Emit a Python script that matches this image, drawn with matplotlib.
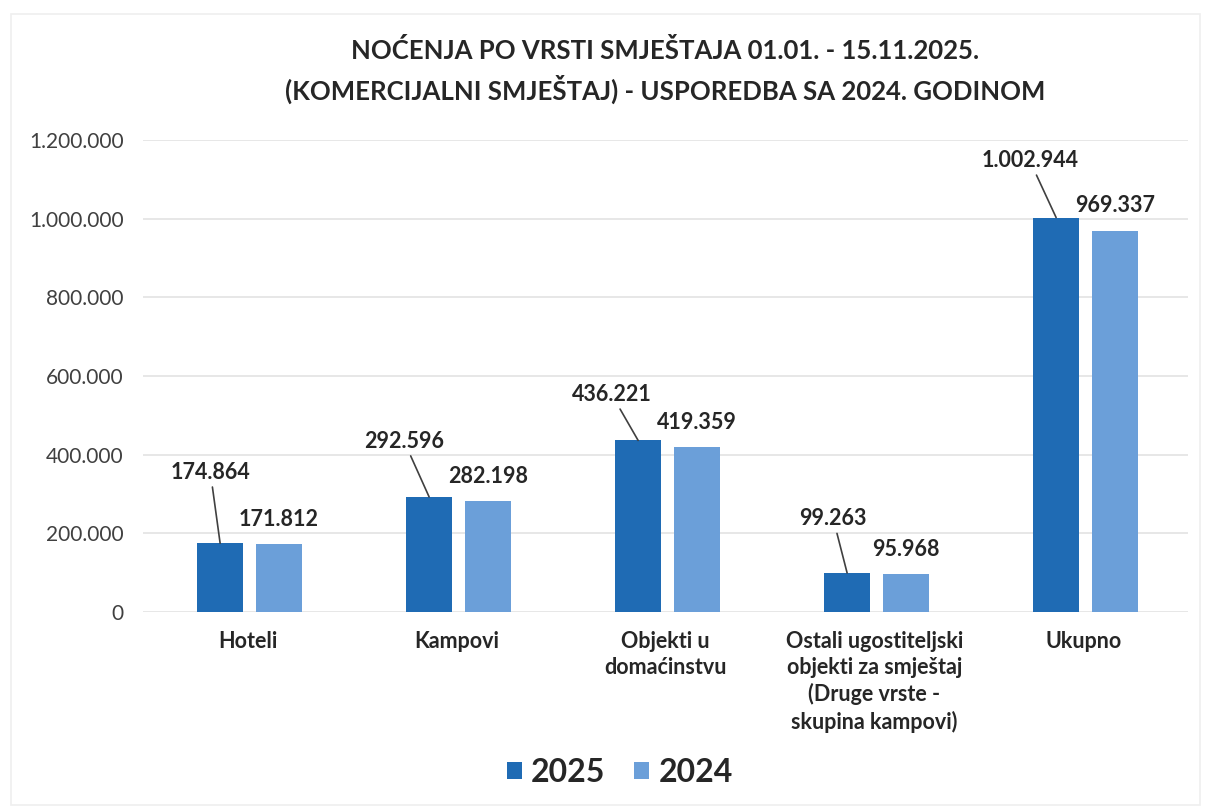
import matplotlib
matplotlib.use("Agg")
import matplotlib.pyplot as plt
import numpy as np
from matplotlib.patches import Rectangle

categories = ["Hoteli", "Kampovi", "Objekti u\ndomaćinstvu",
              "Ostali ugostiteljski\nobjekti za smještaj\n(Druge vrste -\nskupina kampovi)",
              "Ukupno"]
values_2025 = [174864, 292596, 436221, 99263, 1002944]
values_2024 = [171812, 282198, 419359, 95968, 969337]
series_names = ["2025", "2024"]
yticks = [0, 200000, 400000, 600000, 800000, 1000000, 1200000]
title = ("NOĆENJA PO VRSTI SMJEŠTAJA 01.01. - 15.11.2025.\n"
         "(KOMERCIJALNI SMJEŠTAJ) - USPOREDBA SA 2024. GODINOM")

# label offsets (points) for leader-line labels of 2025 series
offsets_2025 = [(-7, 51), (-18, 40), (-19, 33), (-10, 39), (-19, 41)]

def fmt(v):
    return f"{v:,}".replace(",", ".")

plt.rcParams['font.family'] = ['Lato', 'DejaVu Sans']
C1 = "#1f6bb4"
C2 = "#6b9fd9"
TXT = "#262626"

fig = plt.figure(figsize=(12.06, 8.08), dpi=100)
ax = fig.add_axes([143/1206, 1-612/808, (1188-143)/1206, (612-140)/808])

x = np.arange(len(categories))
w = 0.22
off = 0.141
b1 = ax.bar(x - off + 0.01, values_2025, w, color=C1, label=series_names[0], zorder=3)
b2 = ax.bar(x + off + 0.01, values_2024, w, color=C2, label=series_names[1], zorder=3)

ax.set_xlim(-0.5, len(categories) - 0.5)
ax.set_ylim(0, 1200000)
ax.set_yticks(yticks)
ax.set_yticklabels([fmt(t) for t in yticks], fontsize=15, color="#404040")
ax.tick_params(axis='y', length=0, pad=14)
ax.tick_params(axis='x', length=0)
ax.set_xticks([])
for s in ax.spines.values():
    s.set_visible(False)
ax.grid(axis='y', color="#e3e3e3", linewidth=1.2, zorder=0)
ax.set_axisbelow(True)

for i, cat in enumerate(categories):
    ax.text(i, -0.04, cat, transform=ax.get_xaxis_transform(), ha='center', va='top',
            fontsize=15.5, fontweight='bold', color=TXT, linespacing=1.3)

for i, v in enumerate(values_2025):
    ax.annotate(fmt(v), xy=(x[i] - off + 0.01, v), xytext=offsets_2025[i], textcoords='offset points',
                ha='center', va='center', fontsize=15.5, fontweight='bold', color=TXT,
                arrowprops=dict(arrowstyle='-', color="#404040", lw=1.2, shrinkA=1, shrinkB=0))
for i, v in enumerate(values_2024):
    ax.annotate(fmt(v), xy=(x[i] + off + 0.01, v), xytext=(0, 18), textcoords='offset points',
                ha='center', va='center', fontsize=15.5, fontweight='bold', color=TXT)

ax.set_title(title, fontsize=18.5, fontweight='bold', color=TXT, pad=29, linespacing=1.45)

leg = fig.legend(handles=[b1, b2], labels=series_names, loc='center',
                 bbox_to_anchor=(620/1206, 1-772/808), ncol=2, frameon=False,
                 prop=dict(size=23, weight='bold'), handlelength=0.45, handleheight=0.45,
                 handletextpad=0.3, columnspacing=0.9)
for t in leg.get_texts():
    t.set_color(TXT)

fig.patches.append(Rectangle((11/1206, 1-805/808), (1200-11)/1206, (805-14)/808,
                             transform=fig.transFigure, fill=False, edgecolor="#efefef", lw=1.2))

fig.savefig("out.png", dpi=100, facecolor="white")
